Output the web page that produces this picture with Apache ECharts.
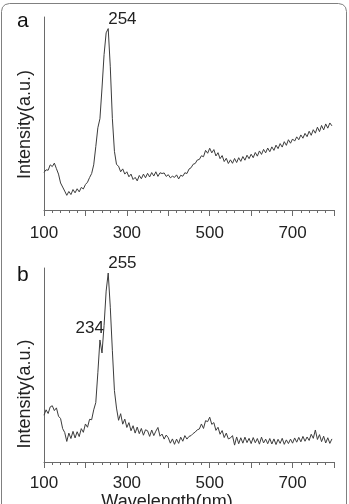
<!DOCTYPE html>
<html>
<head>
<meta charset="utf-8">
<style>
  html, body { margin: 0; padding: 0; background: #fff; }
  #chart { width: 349px; height: 504px; }
</style>
<script src="https://cdn.jsdelivr.net/npm/echarts@6/dist/echarts.min.js"></script>
</head>
<body>
<div id="chart"></div>
<script>
// wavelength (nm), sampled every 5 nm
let wavelength = [
  100, 105, 110, 115, 120, 125, 130, 135, 140, 145,
  150, 155, 160, 165, 170, 175, 180, 185, 190, 195,
  200, 205, 210, 215, 220, 225, 230, 235, 240, 245,
  250, 255, 260, 265, 270, 275, 280, 285, 290, 295,
  300, 305, 310, 315, 320, 325, 330, 335, 340, 345,
  350, 355, 360, 365, 370, 375, 380, 385, 390, 395,
  400, 405, 410, 415, 420, 425, 430, 435, 440, 445,
  450, 455, 460, 465, 470, 475, 480, 485, 490, 495,
  500, 505, 510, 515, 520, 525, 530, 535, 540, 545,
  550, 555, 560, 565, 570, 575, 580, 585, 590, 595,
  600, 605, 610, 615, 620, 625, 630, 635, 640, 645,
  650, 655, 660, 665, 670, 675, 680, 685, 690, 695,
  700, 705, 710, 715, 720, 725, 730, 735, 740, 745,
  750, 755, 760, 765, 770, 775, 780, 785, 790, 795
];

// panel a intensity (a.u.)
let intensityA = [
  19.5, 20.8, 20.6, 23.4, 22.5, 24.3, 21.4, 18.6, 14.0, 11.9,
  9.8, 7.6, 9.6, 8.0, 10.6, 8.9, 11.0, 9.4, 11.7, 10.9,
  13.2, 14.4, 16.8, 18.9, 23.4, 32.8, 42.6, 47.3, 63.2, 80.5,
  91.8, 94.0, 74.2, 47.5, 30.4, 23.6, 22.7, 19.8, 21.3, 18.6,
  19.8, 17.2, 18.6, 15.8, 16.9, 15.1, 17.9, 16.2, 18.6, 16.7,
  19.0, 17.1, 19.4, 17.6, 19.8, 17.4, 19.3, 18.9, 19.2, 17.4,
  18.3, 16.7, 17.5, 16.9, 18.2, 16.1, 18.0, 17.5, 19.3, 18.9,
  21.2, 21.9, 23.7, 24.1, 25.9, 26.2, 28.1, 27.6, 30.9, 29.4,
  32.0, 29.6, 31.3, 28.0, 29.7, 26.6, 28.2, 25.1, 26.8, 24.1,
  26.0, 24.2, 26.7, 24.6, 27.1, 25.2, 27.7, 25.8, 28.4, 26.6,
  28.9, 27.1, 29.8, 27.9, 30.6, 28.8, 31.4, 29.6, 32.1, 30.2,
  32.7, 30.9, 33.6, 31.8, 34.4, 32.6, 35.4, 33.5, 36.4, 34.6,
  36.8, 35.7, 37.9, 36.4, 38.9, 37.2, 39.7, 38.0, 40.8, 38.7,
  41.6, 39.8, 42.9, 40.6, 43.8, 41.5, 44.6, 42.4, 45.1, 43.6
];

// panel b intensity (a.u.)
let intensityB = [
  24.1, 26.9, 25.0, 28.4, 29.0, 26.5, 27.9, 23.6, 22.4, 17.2,
  15.2, 10.6, 14.9, 12.1, 15.8, 12.4, 15.6, 13.1, 17.2, 15.3,
  19.6, 17.9, 22.0, 21.8, 26.9, 30.6, 46.0, 62.9, 56.2, 70.4,
  88.1, 97.4, 79.8, 57.6, 36.8, 27.8, 21.5, 24.9, 19.5, 22.1,
  17.8, 20.3, 16.1, 18.7, 14.9, 18.0, 14.6, 17.3, 13.8, 16.6,
  16.1, 13.2, 16.5, 13.6, 15.9, 17.8, 13.3, 14.4, 11.8, 13.9,
  12.5, 9.7, 11.9, 9.1, 11.8, 9.6, 12.8, 10.7, 13.6, 11.8,
  13.2, 13.6, 14.7, 15.4, 16.6, 17.0, 19.6, 17.3, 21.3, 20.8,
  23.1, 19.4, 20.3, 16.3, 17.9, 14.3, 16.2, 12.6, 14.9, 11.9,
  12.4, 13.6, 8.7, 12.9, 9.4, 12.5, 9.7, 12.8, 10.0, 12.2,
  9.5, 12.6, 9.9, 12.1, 9.2, 12.8, 9.8, 11.8, 9.4, 12.1,
  9.3, 11.9, 9.0, 11.7, 9.6, 12.2, 9.1, 11.4, 9.5, 11.8,
  9.7, 12.4, 10.2, 12.7, 10.4, 13.2, 10.7, 12.9, 11.1, 14.3,
  12.2, 16.5, 11.6, 14.1, 10.5, 13.3, 9.8, 12.5, 9.6, 11.9
];

// tick labels shown on the wavelength axis
let tickLabels = [100, 300, 500, 700];

// peak labels: [wavelength, intensity, text]
let peaksA = [[255, 94.0, '254']];
let peaksB = [[255, 97.4, '255'], [235, 62.9, '234']];

let fontName = '"Liberation Sans", Arial, sans-serif';
let axisColor = '#6a6a6a';
let lineColor = '#3c3c3c';

function pairs(ys) {
      return wavelength.map(function (w, i) {
            return [w, ys[i]];
      });
}

function xAxisOf(gridIndex, margin, name) {
      return {
            type: 'value',
            gridIndex: gridIndex,
            min: 100,
            max: 800,
            interval: 100,
            name: name || '',
            nameLocation: 'middle',
            nameGap: 28,
            nameTextStyle: { fontFamily: fontName, fontSize: 18, color: '#222', padding: [0, 44, 0, 0] },
            axisLine: { show: true, lineStyle: { color: axisColor, width: 1 } },
            axisTick: { show: true, length: 6, lineStyle: { color: axisColor } },
            minorTick: { show: true, splitNumber: 5, length: 3, lineStyle: { color: axisColor } },
            splitLine: { show: false },
            axisLabel: {
                  margin: margin,
                  fontFamily: fontName,
                  fontSize: 17,
                  color: '#222',
                  formatter: function (v) {
                        return tickLabels.indexOf(v) >= 0 ? String(v) : '';
                  }
            }
      };
}

function yAxisOf(gridIndex, shift) {
      return {
            type: 'value',
            gridIndex: gridIndex,
            min: 0,
            max: 100,
            name: 'Intensity(a.u.)',
            nameLocation: 'middle',
            nameGap: 10,
            nameTextStyle: { fontFamily: fontName, fontSize: 18, color: '#222', padding: [0, shift, 0, 0] },
            axisLine: { show: true, lineStyle: { color: axisColor, width: 1 } },
            axisTick: { show: false },
            axisLabel: { show: false },
            splitLine: { show: false }
      };
}

function peakMarks(list) {
      return list.map(function (p) {
            let left = p[2] !== '234';
            return {
                  coord: [p[0], p[1]],
                  label: {
                        show: true,
                        formatter: p[2],
                        fontFamily: fontName,
                        fontSize: 17,
                        color: '#222',
                        align: left ? 'left' : 'right',
                        verticalAlign: 'bottom',
                        position: left ? [0, -1] : [4, -3]
                  }
            };
      });
}

function seriesOf(index, ys, peaks) {
      return {
            type: 'line',
            xAxisIndex: index,
            yAxisIndex: index,
            data: pairs(ys),
            showSymbol: false,
            symbol: 'none',
            animation: false,
            lineStyle: { color: lineColor, width: 1 },
            markPoint: {
                  symbol: 'circle',
                  symbolSize: 0,
                  animation: false,
                  data: peakMarks(peaks)
            }
      };
}

let myChart = echarts.init(document.getElementById('chart'), null, { renderer: 'canvas' });

let option = {
      backgroundColor: '#fff',
      animation: false,
      grid: [
            { left: 44, top: 17, width: 290, height: 193, containLabel: false, outerBoundsMode: 'none' },
            { left: 44, top: 268, width: 290, height: 194, containLabel: false, outerBoundsMode: 'none' }
      ],
      xAxis: [xAxisOf(0, 15), xAxisOf(1, 13, 'Wavelength(nm)')],
      yAxis: [yAxisOf(0, 22), yAxisOf(1, 58)],
      series: [seriesOf(0, intensityA, peaksA), seriesOf(1, intensityB, peaksB)],
      graphic: {
            elements: [
                  {
                        // frame round the figure, open at the bottom edge
                        type: 'polyline',
                        z: 100,
                        silent: true,
                        shape: {
                              points: [[1.5, 504], [1.5, 11.5], [2.5, 7.2], [5.2, 4.6], [9.5, 3.5],
                                    [338.5, 3.5], [342.8, 4.6], [345.5, 7.2], [346.5, 11.5], [346.5, 504]]
                        },
                        style: { fill: null, stroke: '#808080', lineWidth: 1 }
                  },
                  {
                        type: 'text',
                        left: 17,
                        top: 11,
                        style: { text: 'a', font: '21px ' + fontName, fill: '#111' }
                  },
                  {
                        type: 'text',
                        left: 17,
                        top: 265,
                        style: { text: 'b', font: '21px ' + fontName, fill: '#111' }
                  }
            ]
      }
};

myChart.setOption(option);
</script>
</body>
</html>
